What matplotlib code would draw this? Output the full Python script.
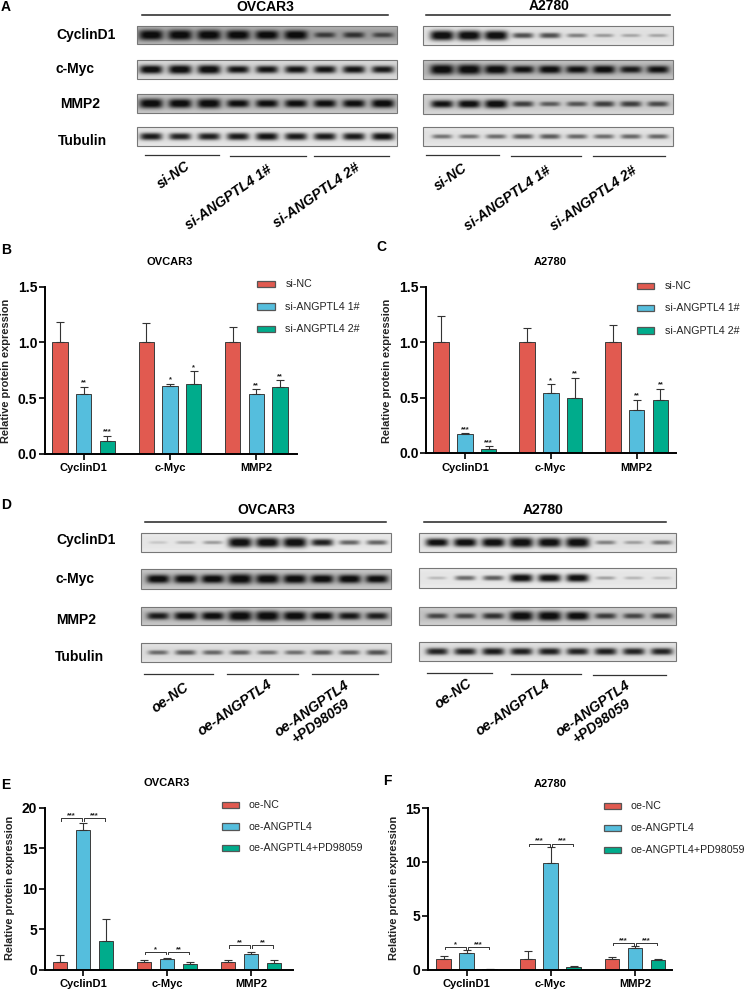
import numpy as np
import matplotlib
matplotlib.use('Agg')
import matplotlib.pyplot as plt
from matplotlib.patches import Rectangle

W, H = 748, 992
SANS = ['Liberation Sans', 'DejaVu Sans']
RED, BLUE, GREEN = '#E15A50', '#55BEDD', '#00AC8C'
COLORS = [RED, BLUE, GREEN]

genes = ['CyclinD1', 'c-Myc', 'MMP2']
si_names = ['si-NC', 'si-ANGPTL4 1#', 'si-ANGPTL4 2#']
oe_names = ['oe-NC', 'oe-ANGPTL4', 'oe-ANGPTL4+PD98059']

# bar values, error tops and stars, one row per series
b_vals = [[1.0, 1.0, 1.0], [0.54, 0.61, 0.54], [0.11, 0.63, 0.60]]
b_tops = [[1.18, 1.17, 1.14], [0.60, 0.63, 0.58], [0.16, 0.74, 0.66]]
b_stars = [['', '', ''], ['**', '*', '**'], ['***', '*', '**']]

c_vals = [[1.0, 1.0, 1.0], [0.17, 0.54, 0.39], [0.04, 0.50, 0.48]]
c_tops = [[1.24, 1.13, 1.16], [0.18, 0.62, 0.48], [0.06, 0.68, 0.58]]
c_stars = [['', '', ''], ['***', '*', '**'], ['***', '**', '**']]

e_vals = [[1.0, 1.0, 1.0], [17.2, 1.35, 1.9], [3.6, 0.65, 0.85]]
e_tops = [[1.8, 1.15, 1.15], [18.1, 1.42, 2.15], [6.3, 0.9, 1.15]]
e_levels = [18.7, 2.2, 3.0]
e_pairs = [['***', '***'], ['*', '**'], ['**', '**']]

f_vals = [[1.0, 1.0, 1.0], [1.55, 9.9, 2.0], [0.03, 0.25, 0.9]]
f_tops = [[1.3, 1.75, 1.15], [1.8, 11.35, 2.2], [0.05, 0.38, 1.03]]
f_levels = [2.1, 11.7, 2.5]
f_pairs = [['*', '***'], ['***', '***'], ['***', '***']]

# blot band strengths, lane by lane
a_ov = [[1, 1, 1, .95, .9, .92, .5, .55, .45],
        [.85, .9, .9, .75, .75, .75, .75, .75, .72],
        [.95, .9, .95, .78, .78, .78, .78, .78, .85],
        [.72, .68, .7, .72, .76, .72, .72, .72, .76]]
a_a2 = [[1, 1, .95, .5, .5, .3, .2, .15, .15],
        [1, 1, .9, .75, .8, .75, .8, .7, .75],
        [.75, .8, .85, .55, .42, .45, .55, .55, .5],
        [.35, .35, .38, .45, .45, .4, .38, .4, .4]]
d_ov = [[.03, .12, .2, 1, 1, 1, .7, .42, .42],
        [.85, .85, .85, 1, .95, .9, .85, .85, .8],
        [.7, .78, .8, 1, 1, .9, .8, .72, .68],
        [.38, .45, .4, .42, .36, .36, .45, .42, .48]]
d_a2 = [[.8, .85, .9, 1, .95, 1, .3, .18, .35],
        [.08, .4, .45, .8, .8, .8, .18, .1, .06],
        [.5, .5, .6, .95, .95, .85, .55, .5, .55],
        [.68, .68, .72, .7, .7, .68, .7, .68, .68]]
# blot background grey per row
a_ov_bg = [.62, .82, .72, .88]
a_a2_bg = [.88, .7, .8, .88]
d_ov_bg = [.9, .72, .72, .86]
d_a2_bg = [.88, .9, .76, .86]
row_names = ['CyclinD1', 'c-Myc', 'MMP2', 'Tubulin']


def ax_px(x0, y_top, x1, y_bottom):
    return fig.add_axes([x0 / W, 1 - y_bottom / H, (x1 - x0) / W, (y_bottom - y_top) / H])


def draw_blot(x0, x1, y0, y1, lane0, lane1, strengths, bg):
    xs = np.linspace(x0, x1, (x1 - x0) * 3)
    ys = np.linspace(y0, y1, (y1 - y0) * 3)
    xx, yy = np.meshgrid(xs, ys)
    dark = np.zeros_like(xx)
    yc = (y0 + y1) / 2
    for lane, s in zip(np.linspace(lane0, lane1, len(strengths)), strengths):
        hw = 9.0 + 3.0 * s
        hh = 1.5 + 3.6 * s ** 1.5
        d = min(1.0, 0.1 + 1.1 * s)
        dark += d * np.exp(-(np.abs(xx - lane) / hw) ** 4) * np.exp(-(np.abs(yy - yc) / hh) ** 2.6)
    # lighter rim, like a cropped film strip
    rim = np.minimum(np.minimum(yy - y0, y1 - yy), 5) / 5
    base = bg + (1 - rim) * (1 - bg) * 0.25
    img = base * (1 - np.clip(dark, 0, 0.92))
    canvas.imshow(img, extent=(x0, x1, y1, y0), cmap='gray', vmin=0, vmax=1,
                  aspect='auto', interpolation='bilinear', zorder=1)
    canvas.add_patch(Rectangle((x0, y0), x1 - x0, y1 - y0, fill=False, ec='#777777', lw=0.8, zorder=2))


def blot_panel(x0, x1, lane0, lane1, rows, strengths, bgs):
    for (y0, y1), s, bg in zip(rows, strengths, bgs):
        draw_blot(x0, x1, y0, y1, lane0, lane1, s, bg)


def bars(rect, first, step, group, ylim, yticks, fmt, vals, tops, title, title_xy, names, leg_x, leg_ys, leg_txt, lab_x):
    left, top, right, bottom = rect
    ax = ax_px(left, top, right, bottom)
    ax.patch.set_alpha(0)
    ax.set_xlim((left - first) / step, (right - first) / step)
    ax.set_ylim(*ylim)
    gap = group / step
    for i, (v, t) in enumerate(zip(vals, tops)):
        xs = [g * gap + i for g in range(3)]
        errs = [max(a - b, 0) for a, b in zip(t, v)]
        ax.bar(xs, v, width=0.65, color=COLORS[i], edgecolor='#3c3c3c', linewidth=0.7)
        ax.errorbar(xs, v, yerr=[[0] * 3, errs], fmt='none', ecolor='#333333', elinewidth=0.8, capsize=3.2, capthick=0.8)
    ax.set_xticks([g * gap + 1 for g in range(3)])
    ax.set_xticklabels(genes, family=SANS, fontweight='bold', fontsize=8)
    ax.set_yticks(yticks)
    ax.set_yticklabels([fmt % y for y in yticks], family=SANS, fontweight='bold', fontsize=10)
    ax.tick_params(axis='x', length=4.5, width=1.2, pad=2.5)
    ax.tick_params(axis='y', length=4.5, width=1.2, pad=0.8)
    for side in ['top', 'right']:
        ax.spines[side].set_visible(False)
    for side in ['left', 'bottom']:
        ax.spines[side].set_linewidth(1.4)
    canvas.text(lab_x, (top + bottom) / 2 + (1 if top < 500 else -1), 'Relative protein expression',
                family=SANS, fontweight='bold', fontsize=7.9, rotation=90, ha='center', va='center', color='#222222')
    canvas.text(title_xy[0], title_xy[1], title, family=SANS, fontweight='bold', fontsize=8, ha='center', va='center')
    for name, c, y in zip(names, COLORS, leg_ys):
        canvas.add_patch(Rectangle((leg_x, y - 3.4), 17.5, 6.8, fc=c, ec='#555555', lw=0.9, zorder=3))
        canvas.text(leg_txt, y, name, family=SANS, fontsize=7.7, va='center', color='#222222')
    return ax, gap


def add_stars(ax, gap, tops, stars):
    for i, row in enumerate(stars):
        for g, s in enumerate(row):
            if s:
                ax.annotate(s, (g * gap + i, tops[i][g]), xytext=(0, 0.2), textcoords='offset points',
                            ha='center', va='bottom', fontsize=5.4, fontweight='bold', color='#222222', family=SANS)


def add_brackets(ax, gap, levels, pairs, tick):
    for g, (lev, pair) in enumerate(zip(levels, pairs)):
        for j, s in enumerate(pair):
            a = g * gap + j + 0.04
            b = g * gap + j + 0.96
            ax.plot([a, a, b, b], [lev - tick, lev, lev, lev - tick], color='#333333', lw=0.7, clip_on=False)
            ax.annotate(s, ((a + b) / 2, lev), xytext=(0, -0.8), textcoords='offset points', ha='center', va='bottom',
                        fontsize=5.4, fontweight='bold', color='#222222', family=SANS)


fig = plt.figure(figsize=(W / 100, H / 100), dpi=100)
canvas = fig.add_axes([0, 0, 1, 1])
canvas.axis('off')

# panel A
a_rows_l = [(26, 44), (60, 79), (94, 113), (127, 146)]
a_rows_r = [(26, 45), (60, 79), (94, 114), (127, 146)]
blot_panel(137, 397, 151, 383, a_rows_l, a_ov, a_ov_bg)
blot_panel(423, 673, 442, 658, a_rows_r, a_a2, a_a2_bg)
# panel D
d_rows_l = [(533, 552), (569, 589), (607, 625), (643, 662)]
d_rows_r = [(533, 552), (568, 588), (607, 625), (642, 661)]
blot_panel(141, 391, 158, 377, d_rows_l, d_ov, d_ov_bg)
blot_panel(419, 676, 437, 662, d_rows_r, d_a2, d_a2_bg)
canvas.set_xlim(0, W)
canvas.set_ylim(H, 0)

for name, y, x in zip(row_names, [35.5, 69.5, 104.5, 141], [56, 56, 60, 57.5]):
    canvas.text(x, y, name, family=SANS, fontweight='bold', fontsize=10, va='center')
for name, y, x in zip(row_names, [540, 579, 620, 657], [56, 56, 56, 55]):
    canvas.text(x, y, name, family=SANS, fontweight='bold', fontsize=10, va='center')

for x, y, t in [(265, 7, 'OVCAR3'), (549, 6, 'A2780'), (266, 510, 'OVCAR3'), (543, 510, 'A2780')]:
    canvas.text(x, y, t, family=SANS, fontweight='bold', fontsize=10, ha='center', va='center')
for x0, x1, y in [(142.5, 388.5, 15), (426, 670.5, 15), (145, 386, 521.5), (424.5, 666, 521.5)]:
    canvas.plot([x0, x1], [y, y], color='#222222', lw=1.1)
for x0, x1, y in [(145, 219, 155), (230, 306.5, 155.5), (314, 389, 156), (426, 499, 155), (511, 581, 155.5), (593, 665, 156),
                  (144, 213, 673.5), (227, 298, 673.5), (312, 378, 674), (427, 492, 673), (511, 581, 673.5), (593, 666, 674.5)]:
    canvas.plot([x0, x1], [y, y], color='#333333', lw=0.9)

lane_labels = [(174, 175, si_names[0]), (229, 197, si_names[1]), (316.5, 195, si_names[2]),
               (451, 177, si_names[0]), (508, 198, si_names[1]), (594, 198, si_names[2]),
               (170, 698, oe_names[0]), (235, 708, oe_names[1]), (316.5, 715, 'oe-ANGPTL4\n+PD98059'),
               (453, 694, oe_names[0]), (513, 708, oe_names[1]), (597, 715, 'oe-ANGPTL4\n+PD98059')]
for x, y, t in lane_labels:
    canvas.text(x, y, t, family=SANS, fontweight='bold', style='italic', fontsize=10.2, rotation=35,
                ha='center', va='center', rotation_mode='anchor', linespacing=1.05)

for x, y, t in [(6, 7, 'A'), (6, 250, 'B'), (381, 247, 'C'), (6, 505, 'D'), (6, 785, 'E'), (387, 781, 'F')]:
    canvas.text(x, y, t, family=SANS, fontweight='bold', fontsize=10, ha='center', va='center')

# panel B, C
ax, gap = bars((44.6, 286.7, 297, 453.7), 60, 23.7, 86.3, (0, 1.5), [0, 0.5, 1.0, 1.5], '%.1f', b_vals, b_tops,
               'OVCAR3', (170, 262), si_names, 257.5, [284, 306.7, 329], 285.4, 6)
add_stars(ax, gap, b_tops, b_stars)
ax, gap = bars((426, 287, 676, 453), 441.2, 23.7, 85.9, (0, 1.5), [0, 0.5, 1.0, 1.5], '%.1f', c_vals, c_tops,
               'A2780', (550, 262), si_names, 637, [286, 308, 330.7], 665, 387.5)
add_stars(ax, gap, c_tops, c_stars)

# panel E, F
ax, gap = bars((44.6, 807.7, 292.6, 969.7), 60, 23, 84, (0, 20), [0, 5, 10, 15, 20], '%d', e_vals, e_tops,
               'OVCAR3', (166.5, 783), oe_names, 221.6, [805, 826.7, 848], 248.4, 10.5)
add_brackets(ax, gap, e_levels, e_pairs, 0.3)
ax, gap = bars((428, 808, 671.5, 969.7), 443.6, 23, 84.2, (0, 15), [0, 5, 10, 15], '%d', f_vals, f_tops,
               'A2780', (550, 784), oe_names, 604, [806, 828, 850], 630.5, 394)
add_brackets(ax, gap, f_levels, f_pairs, 0.22)

fig.savefig('out.png', dpi=100)
